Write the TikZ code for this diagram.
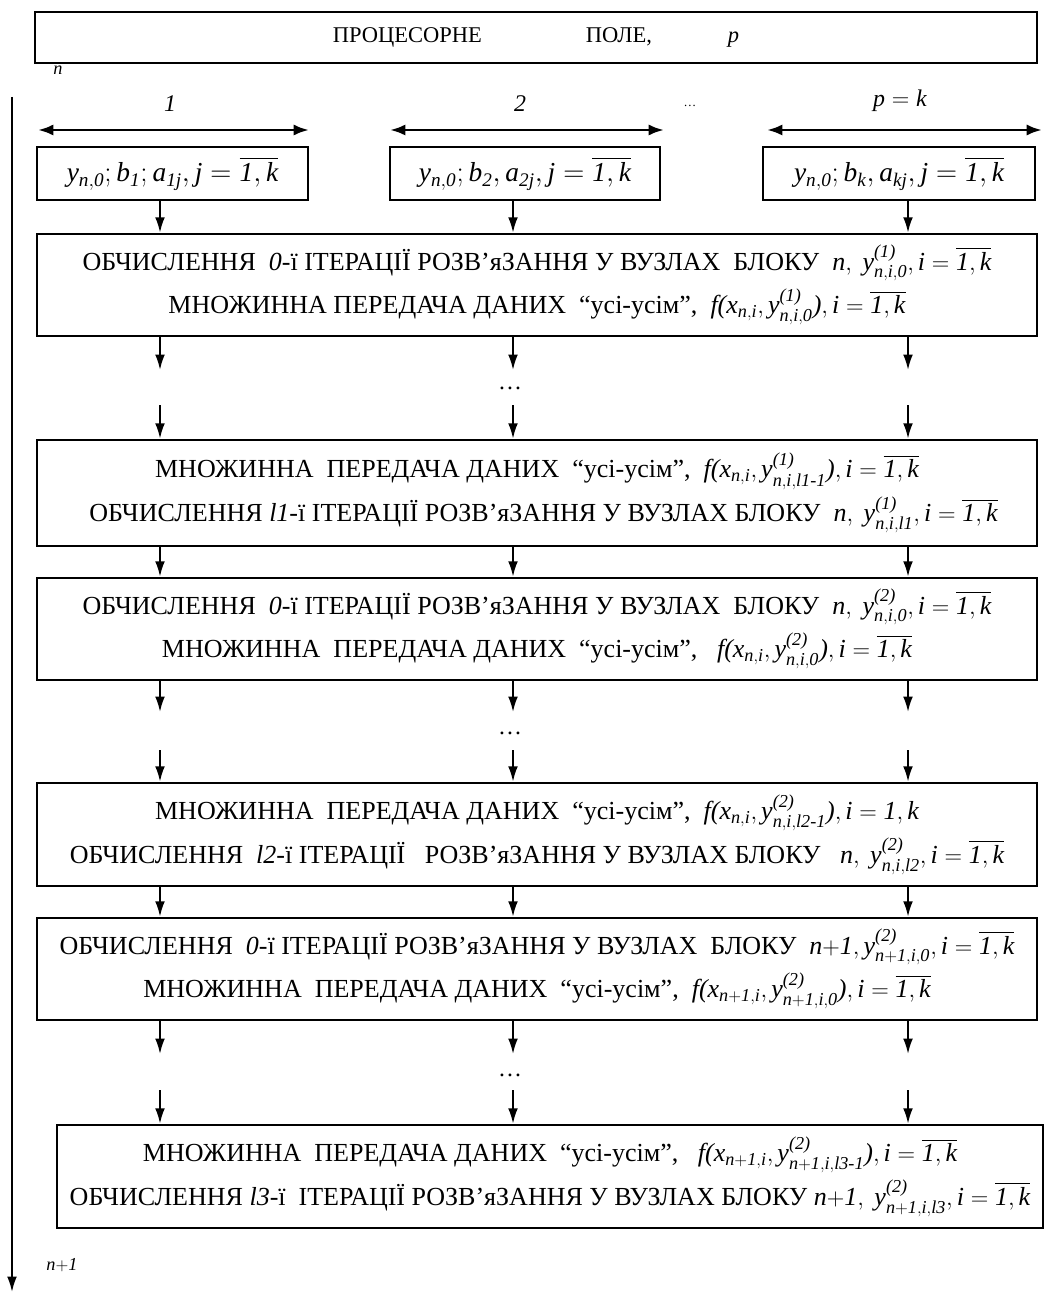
\documentclass[tikz,border=0pt]{standalone}
\usepackage{amsmath}
\usepackage[no-math]{fontspec}
\setmainfont{Liberation Serif}
\usetikzlibrary{arrows.meta, positioning}
% italic letters and digits in formulas, as in the scheme
\DeclareSymbolFont{itletters}{TU}{\rmdefault}{m}{it}
\newcommand\itsym[1]{\DeclareMathSymbol{#1}{\mathalpha}{itletters}{`#1}}
\itsym{a}\itsym{b}\itsym{f}\itsym{i}\itsym{j}\itsym{k}\itsym{l}\itsym{n}
\itsym{p}\itsym{x}\itsym{y}\itsym{0}\itsym{1}\itsym{2}\itsym{3}
\DeclareMathSymbol{(}{\mathopen}{itletters}{`(}
\DeclareMathSymbol{)}{\mathclose}{itletters}{`)}
\DeclareMathSymbol{-}{\mathord}{itletters}{`-}

\tikzset{
  bigbox/.style={draw, line width=1.8pt, minimum width=25cm, minimum height=2.55cm,
    align=center, inner sep=0pt, font=\fontsize{18.5}{31}\selectfont},
  smallbox/.style={draw, line width=1.8pt, minimum width=6.775cm, minimum height=1.325cm,
    inner sep=0pt, font=\fontsize{19.5}{22}\selectfont},
  arr/.style={line width=1.4pt, -{Latex[length=11pt,width=7pt]}},
  darr/.style={line width=2pt, {Latex[length=11pt,width=8pt]}-{Latex[length=11pt,width=8pt]}},
  lab/.style={font=\fontsize{17}{19}\selectfont}
}

\begin{document}
\begin{tikzpicture}[x=0.025cm, y=-0.025cm]
        \useasboundingbox (0,0) rectangle (1045,1293);
        % processor field
        \node[draw, line width=1.8pt, minimum width=25.05cm, minimum height=1.275cm,
          font=\fontsize{16}{18}\selectfont] (field) at (536,37.5)
          {ПРОЦЕСОРНЕ\hspace{2.6cm}ПОЛЕ,\hspace{1.9cm}$p$};

        % columns of the arrows
        \coordinate (c1) at (160,0);
        \coordinate (c2) at (513,0);
        \coordinate (c3) at (908,0);

        % processors and their data
        \node[lab] (n1) at (170,104) {$1$};
        \node[lab] (n2) at (520,104) {$2$};
        \node[font=\small] (ndots) at (690,106) {…};
        \node[lab] (nk) at (900,101) {$p=k$};
        \coordinate (d1l) at (38,130);  \coordinate (d1r) at (309,130);
        \coordinate (d2l) at (390,130); \coordinate (d2r) at (664,130);
        \coordinate (d3l) at (767,130); \coordinate (d3r) at (1042,130);
        \draw[darr] (d1l) -- (d1r);
        \draw[darr] (d2l) -- (d2r);
        \draw[darr] (d3l) -- (d3r);
        \node[smallbox] (s1) at (172.5,173.5) {$y_{n,0};b_1;a_{1j},j=\overline{1,k}$};
        \node[smallbox, minimum width=6.75cm] (s2) at (525,173.5) {$y_{n,0};b_2,a_{2j},j=\overline{1,k}$};
        \node[smallbox, minimum width=6.8cm] (s3) at (899,173.5) {$y_{n,0};b_k,a_{kj},j=\overline{1,k}$};

        % block n
        \node[bigbox] (b1) at (537,285)
          {ОБЧИСЛЕННЯ \ $0$-ї ІТЕРАЦІЇ РОЗВ’яЗАННЯ У ВУЗЛАХ \ БЛОКУ \ $n,\ y^{(1)}_{n,i,0},i=\overline{1,k}$\\
           МНОЖИННА ПЕРЕДАЧА ДАНИХ \ “усі-усім”, \ $f(x_{n,i},y^{(1)}_{n,i,0}),i=\overline{1,k}$};
        \node[bigbox, minimum height=2.65cm] (b2) at (537,493)
          {МНОЖИННА \ ПЕРЕДАЧА ДАНИХ \ “усі-усім”, \ $f(x_{n,i},y^{(1)}_{n,i,l1-1}),i=\overline{1,k}$\\
           \ \ ОБЧИСЛЕННЯ $l1$-ї ІТЕРАЦІЇ РОЗВ’яЗАННЯ У ВУЗЛАХ БЛОКУ \ $n,\ y^{(1)}_{n,i,l1},i=\overline{1,k}$};
        \node[bigbox] (b3) at (537,629)
          {ОБЧИСЛЕННЯ \ $0$-ї ІТЕРАЦІЇ РОЗВ’яЗАННЯ У ВУЗЛАХ \ БЛОКУ \ $n,\ y^{(2)}_{n,i,0},i=\overline{1,k}$\\
           МНОЖИННА \ ПЕРЕДАЧА ДАНИХ \ “усі-усім”, \ \ $f(x_{n,i},y^{(2)}_{n,i,0}),i=\overline{1,k}$};
        \node[bigbox, minimum height=2.575cm] (b4) at (537,834.5)
          {МНОЖИННА \ ПЕРЕДАЧА ДАНИХ \ “усі-усім”, \ $f(x_{n,i},y^{(2)}_{n,i,l2-1}),i=1,k$\\
           ОБЧИСЛЕННЯ \ $l2$-ї ІТЕРАЦІЇ \ \ РОЗВ’яЗАННЯ У ВУЗЛАХ БЛОКУ \ \ $n,\ y^{(2)}_{n,i,l2},i=\overline{1,k}$};

        % block n+1
        \node[bigbox] (b5) at (537,969)
          {ОБЧИСЛЕННЯ \ $0$-ї ІТЕРАЦІЇ РОЗВ’яЗАННЯ У ВУЗЛАХ \ БЛОКУ \ $n{+}1,y^{(2)}_{n{+}1,i,0},i=\overline{1,k}$\\
           МНОЖИННА \ ПЕРЕДАЧА ДАНИХ \ “усі-усім”, \ $f(x_{n{+}1,i},y^{(2)}_{n{+}1,i,0}),i=\overline{1,k}$};
        \node[bigbox, minimum width=24.65cm, minimum height=2.575cm] (b6) at (550,1176.5)
          {МНОЖИННА \ ПЕРЕДАЧА ДАНИХ \ “усі-усім”, \ \ $f(x_{n{+}1,i},y^{(2)}_{n{+}1,i,l3-1}),i=\overline{1,k}$\\
           ОБЧИСЛЕННЯ $l3$-ї \ ІТЕРАЦІЇ РОЗВ’яЗАННЯ У ВУЗЛАХ БЛОКУ $n{+}1,\ y^{(2)}_{n{+}1,i,l3},i=\overline{1,k}$};

        % loose ends at the dots
        \coordinate (g1) at (0,370);  \coordinate (g2) at (0,405);
        \coordinate (g3) at (0,712);  \coordinate (g4) at (0,750);
        \coordinate (g5) at (0,1054); \coordinate (g6) at (0,1090);
        \node[lab] (dots1) at (510,388) {…};
        \node[lab] (dots2) at (510,733) {…};
        \node[lab] (dots3) at (510,1075) {…};

        \draw[arr] (s1.south -| c1) -- (b1.north -| c1);
        \draw[arr] (s2.south -| c2) -- (b1.north -| c2);
        \draw[arr] (s3.south -| c3) -- (b1.north -| c3);
        \foreach \c in {c1,c2,c3} {
          \draw[arr] (b1.south -| \c) -- (g1 -| \c);
          \draw[arr] (g2 -| \c) -- (b2.north -| \c);
          \draw[arr] (b2.south -| \c) -- (b3.north -| \c);
          \draw[arr] (b3.south -| \c) -- (g3 -| \c);
          \draw[arr] (g4 -| \c) -- (b4.north -| \c);
          \draw[arr] (b4.south -| \c) -- (b5.north -| \c);
          \draw[arr] (b5.south -| \c) -- (g5 -| \c);
          \draw[arr] (g6 -| \c) -- (b6.north -| \c);
        }

        % time axis
        \coordinate (t0) at (12,97);
        \coordinate (t1) at (12,1292);
        \draw[arr] (t0) -- (t1);
        \node[font=\fontsize{13}{15}\selectfont] (tn) at (58,70) {$n$};
        \node[font=\fontsize{13}{15}\selectfont] (tn1) at (62,1265) {$n{+}1$};
\end{tikzpicture}
\end{document}
